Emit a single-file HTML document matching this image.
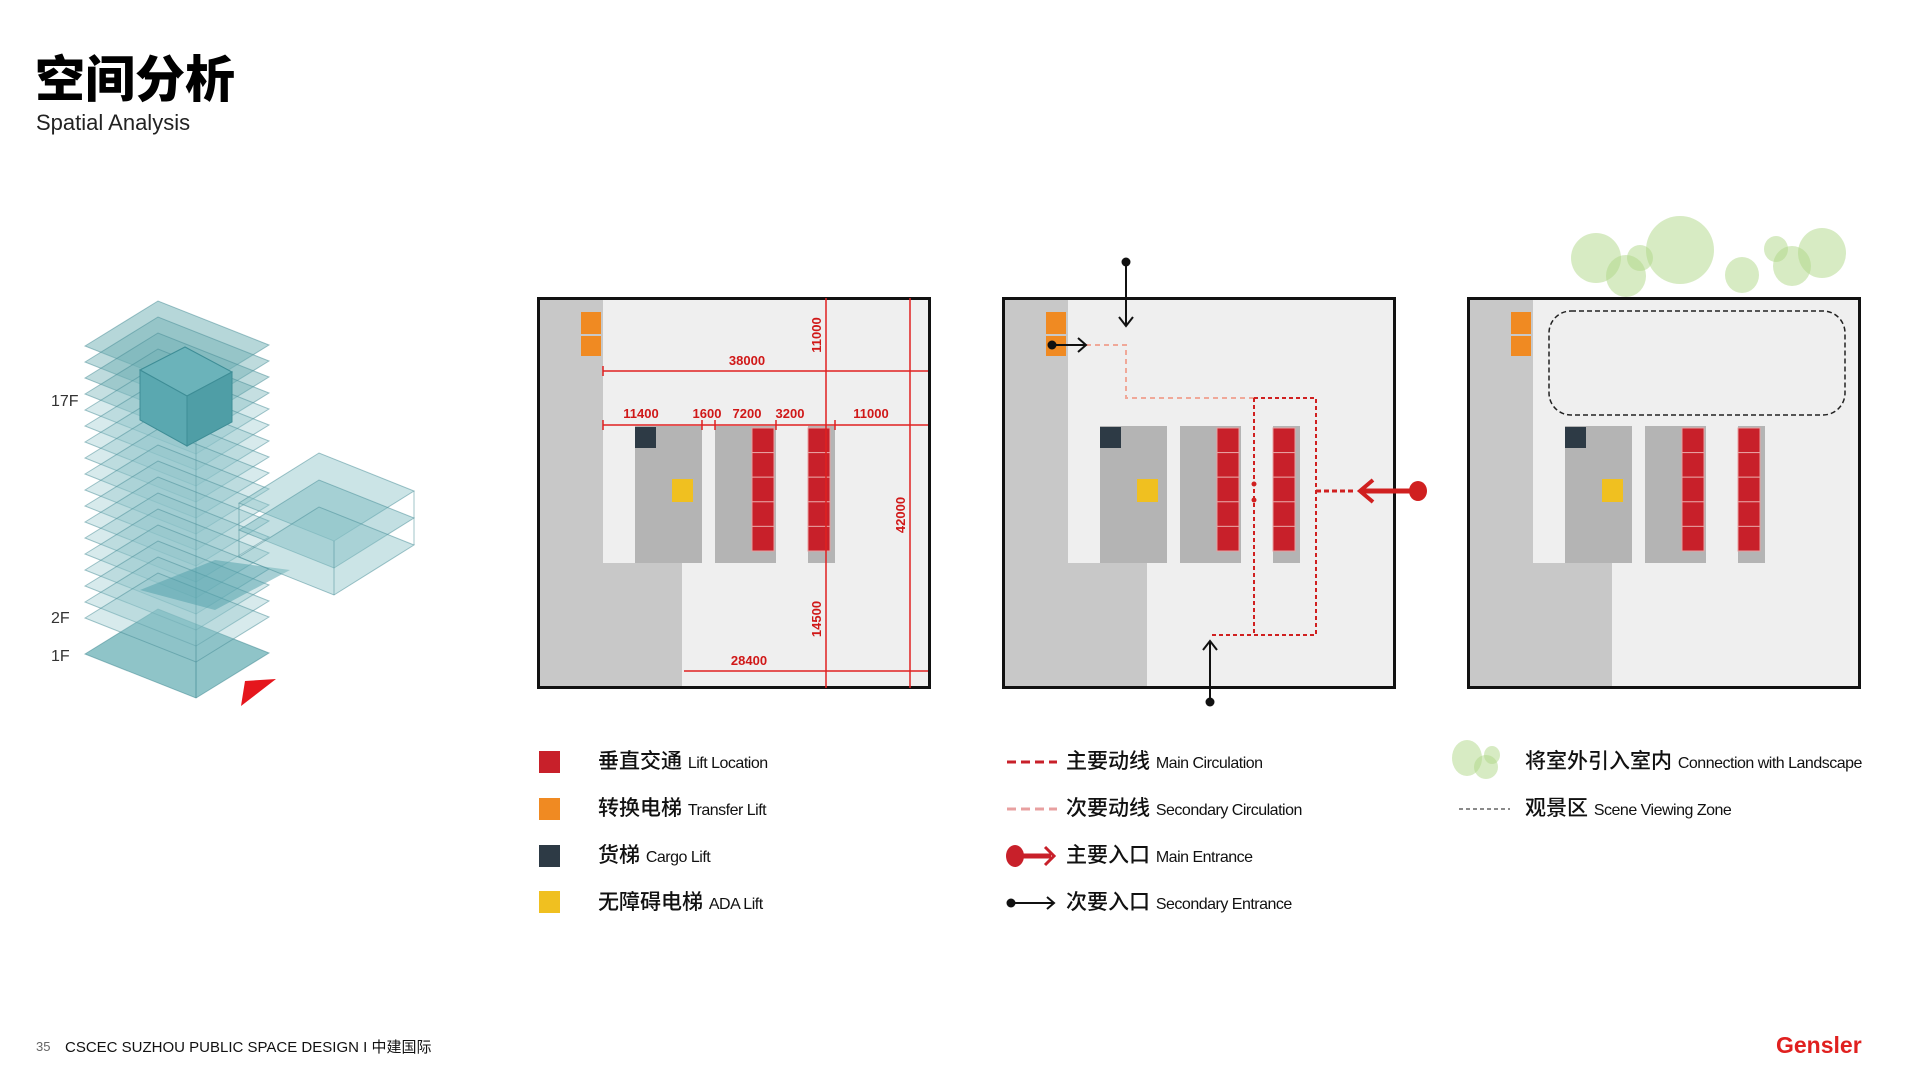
<!DOCTYPE html>
<html><head><meta charset="utf-8"><style>
body{margin:0;width:1920px;height:1080px;background:#fff;overflow:hidden;position:relative;font-family:"Liberation Sans","Noto Sans CJK SC",sans-serif}
.t{position:absolute;white-space:nowrap}
.lg{font-size:21px;font-weight:500;color:#111}
.lg small{font-size:16px;font-weight:400;letter-spacing:-0.5px}
</style></head><body>
<div class="t" style="left:35px;top:40px;font-size:50px;font-weight:900;font-family:'Noto Sans CJK SC',sans-serif;color:#000">空间分析</div>
<div class="t" style="left:36px;top:110px;font-size:22px;color:#222">Spatial Analysis</div>

<svg width="1920" height="1080" style="position:absolute;left:0;top:0" font-family="Liberation Sans, sans-serif">
<!-- tower -->
<g stroke="rgba(70,140,150,0.55)" stroke-width="1">
<polygon points="85,654 158,609 269,653 196,698" fill="#8fc4c8"/>
<line x1="196" y1="698" x2="196" y2="640" />
</g>
<g stroke="rgba(70,140,150,0.5)" stroke-width="1">
<polygon points="85,346 158,301 269,345 196,390" fill="rgba(110,175,180,0.5)"/>
<polygon points="85,362 158,317 269,361 196,406" fill="rgba(110,175,180,0.45)"/>
<polygon points="85,378 158,333 269,377 196,422" fill="rgba(110,175,180,0.45)"/>
<polygon points="85,394 158,349 269,393 196,438" fill="rgba(110,175,180,0.4)"/>
<polygon points="85,410 158,365 269,409 196,454" fill="rgba(140,195,200,0.35)"/>
<polygon points="85,426 158,381 269,425 196,470" fill="rgba(140,195,200,0.35)"/>
<polygon points="85,442 158,397 269,441 196,486" fill="rgba(140,195,200,0.35)"/>
<polygon points="85,458 158,413 269,457 196,502" fill="rgba(140,195,200,0.35)"/>
<polygon points="85,474 158,429 269,473 196,518" fill="rgba(140,195,200,0.35)"/>
<polygon points="85,490 158,445 269,489 196,534" fill="rgba(140,195,200,0.35)"/>
<polygon points="85,506 158,461 269,505 196,550" fill="rgba(140,195,200,0.35)"/>
<polygon points="85,522 158,477 269,521 196,566" fill="rgba(140,195,200,0.35)"/>
<polygon points="85,538 158,493 269,537 196,582" fill="rgba(140,195,200,0.35)"/>
<polygon points="85,554 158,509 269,553 196,598" fill="rgba(140,195,200,0.35)"/>
<polygon points="85,570 158,525 269,569 196,614" fill="rgba(140,195,200,0.35)"/>
<polygon points="85,586 158,541 269,585 196,630" fill="rgba(140,195,200,0.35)"/>
<polygon points="85,602 158,557 269,601 196,646" fill="rgba(140,195,200,0.35)"/>
<polygon points="85,618 158,573 269,617 196,662" fill="rgba(140,195,200,0.35)"/>
</g>
<line x1="196" y1="390" x2="196" y2="698" stroke="rgba(70,140,150,0.4)"/>
<polygon points="140,370 185,347 232,372 187,396" fill="#6bb3ba" stroke="#3e8d96"/>
<polygon points="140,370 187,396 187,446 140,420" fill="#5aa8b0" stroke="#3e8d96"/>
<polygon points="187,396 232,372 232,422 187,446" fill="#4f9ea6" stroke="#3e8d96"/>
<polygon points="140,590 215,560 290,570 215,610" fill="rgba(80,160,170,0.5)"/>
<g stroke="rgba(70,140,150,0.5)">
<polygon points="239,503 319,453 414,491 334,541" fill="rgba(140,195,200,0.45)"/>
<polygon points="239,530 319,480 414,518 334,568" fill="rgba(120,185,190,0.45)"/>
<polygon points="239,557 319,507 414,545 334,595" fill="rgba(140,195,200,0.45)"/>
<line x1="334" y1="541" x2="334" y2="595"/><line x1="414" y1="491" x2="414" y2="545"/><line x1="239" y1="503" x2="239" y2="557"/>
</g>
<polygon points="245,681 276,679 241,706" fill="#e5161d"/>
<text x="51" y="406" font-size="16" fill="#333">17F</text>
<text x="51" y="623" font-size="16" fill="#333">2F</text>
<text x="51" y="661" font-size="16" fill="#333">1F</text>

<defs>
<g id="plan">
<rect x="0" y="0" width="394" height="392" fill="#efefef"/>
<rect x="0" y="0" width="66" height="392" fill="#c8c8c8"/>
<rect x="0" y="266" width="145" height="126" fill="#c8c8c8"/>
<rect x="98" y="129" width="67" height="137" fill="#b4b4b4"/>
<rect x="178" y="129" width="61" height="137" fill="#b4b4b4"/>
<rect x="271" y="129" width="27" height="137" fill="#b4b4b4"/>
<rect x="44" y="15" width="20" height="22" fill="#f08a22"/>
<rect x="44" y="39" width="20" height="20" fill="#f08a22"/>
<rect x="98" y="130" width="21" height="21" fill="#2d3a45"/>
<rect x="135" y="182" width="21" height="23" fill="#f0c020"/>
<g fill="#c8202a" stroke="#e8a0a0" stroke-width="1">
<rect x="215" y="131" width="22" height="24.6"/><rect x="215" y="155.6" width="22" height="24.6"/><rect x="215" y="180.2" width="22" height="24.6"/><rect x="215" y="204.8" width="22" height="24.6"/><rect x="215" y="229.4" width="22" height="24.6"/>
<rect x="271" y="131" width="22" height="24.6"/><rect x="271" y="155.6" width="22" height="24.6"/><rect x="271" y="180.2" width="22" height="24.6"/><rect x="271" y="204.8" width="22" height="24.6"/><rect x="271" y="229.4" width="22" height="24.6"/>
</g>
<rect x="1.5" y="1.5" width="391" height="389" fill="none" stroke="#111" stroke-width="3"/>
</g>
</defs>
<g transform="translate(-4,-2)">
<use href="#plan" x="541" y="299"/>
<use href="#plan" x="1006" y="299"/>
<use href="#plan" x="1471" y="299"/>

<g stroke="#e02020" stroke-width="1.5" fill="none">
<line x1="830" y1="300" x2="830" y2="690"/>
<line x1="914" y1="300" x2="914" y2="690"/>
<line x1="607" y1="373" x2="932" y2="373"/>
<line x1="607" y1="427" x2="932" y2="427"/>
<line x1="688" y1="673" x2="932" y2="673"/>
<line x1="607" y1="422" x2="607" y2="432"/><line x1="706" y1="422" x2="706" y2="432"/><line x1="719" y1="422" x2="719" y2="432"/><line x1="780" y1="422" x2="780" y2="432"/><line x1="839" y1="422" x2="839" y2="432"/><line x1="607" y1="368" x2="607" y2="378"/>
</g>
<g fill="#d01818" font-size="13" font-weight="bold">
<text x="751" y="367" text-anchor="middle">38000</text>
<text x="645" y="420" text-anchor="middle">11400</text>
<text x="711" y="420" text-anchor="middle">1600</text>
<text x="751" y="420" text-anchor="middle">7200</text>
<text x="794" y="420" text-anchor="middle">3200</text>
<text x="875" y="420" text-anchor="middle">11000</text>
<text x="753" y="667" text-anchor="middle">28400</text>
<text transform="translate(825,337) rotate(-90)" text-anchor="middle">11000</text>
<text transform="translate(825,621) rotate(-90)" text-anchor="middle">14500</text>
<text transform="translate(909,517) rotate(-90)" text-anchor="middle">42000</text>
</g>

<g fill="none" stroke-width="2">
<polyline points="1090,347 1130,347 1130,400 1258,400" stroke="#f0a898" stroke-dasharray="5,4"/>
<polyline points="1258,400 1320,400 1320,637 1214,637" stroke="#d02020" stroke-dasharray="4,3"/>
<line x1="1258" y1="400" x2="1258" y2="637" stroke="#d02020" stroke-dasharray="4,3"/>
<line x1="1320" y1="493" x2="1360" y2="493" stroke="#d02020" stroke-width="3" stroke-dasharray="5,3"/>
<line x1="1365" y1="493" x2="1420" y2="493" stroke="#d02020" stroke-width="5"/>
<polyline points="1377,482 1364,493 1377,504" stroke="#d02020" stroke-width="4"/>
<line x1="1130" y1="263" x2="1130" y2="328" stroke="#111"/>
<polyline points="1123,319 1130,328 1137,319" stroke="#111"/>
<line x1="1058" y1="347" x2="1090" y2="347" stroke="#111"/>
<polyline points="1082,340 1090,347 1082,354" stroke="#111"/>
<line x1="1214" y1="705" x2="1214" y2="643" stroke="#111"/>
<polyline points="1207,652 1214,643 1221,652" stroke="#111"/>
</g>
<ellipse cx="1422" cy="493" rx="9" ry="10" fill="#d02020"/>
<circle cx="1258" cy="486" r="2.5" fill="#d02020"/><circle cx="1258" cy="502" r="2.5" fill="#d02020"/>
<circle cx="1130" cy="264" r="4.5" fill="#111"/><circle cx="1056" cy="347" r="4.5" fill="#111"/><circle cx="1214" cy="704" r="4.5" fill="#111"/>

<rect x="1553" y="313" width="296" height="104" rx="22" fill="none" stroke="#222" stroke-width="1.5" stroke-dasharray="5,3"/>
<g fill="rgba(175,215,135,0.5)">
<ellipse cx="1600" cy="260" rx="25" ry="25"/><ellipse cx="1630" cy="278" rx="20" ry="21"/><ellipse cx="1644" cy="260" rx="13" ry="13"/>
<ellipse cx="1684" cy="252" rx="34" ry="34"/><ellipse cx="1746" cy="277" rx="17" ry="18"/><ellipse cx="1780" cy="251" rx="12" ry="13"/>
<ellipse cx="1796" cy="268" rx="19" ry="20"/><ellipse cx="1826" cy="255" rx="24" ry="25"/>
</g>
</g>

<rect x="539" y="751" width="21" height="22" fill="#c8202a"/>
<rect x="539" y="798" width="21" height="22" fill="#f08a22"/>
<rect x="539" y="845" width="21" height="22" fill="#2d3a45"/>
<rect x="539" y="891" width="21" height="22" fill="#f0c020"/>
<line x1="1007" y1="762" x2="1057" y2="762" stroke="#c8202a" stroke-width="3" stroke-dasharray="9,5"/>
<line x1="1007" y1="809" x2="1057" y2="809" stroke="#e8a0a0" stroke-width="3" stroke-dasharray="9,5"/>
<ellipse cx="1015" cy="856" rx="9" ry="11" fill="#c8202a"/>
<line x1="1015" y1="856" x2="1051" y2="856" stroke="#c8202a" stroke-width="5"/>
<polyline points="1045,847 1054,856 1045,865" fill="none" stroke="#c8202a" stroke-width="3"/>
<circle cx="1011" cy="903" r="4.5" fill="#111"/>
<line x1="1011" y1="903" x2="1054" y2="903" stroke="#111" stroke-width="2"/>
<polyline points="1047,897 1054,903 1047,909" fill="none" stroke="#111" stroke-width="2"/>
<g fill="rgba(175,215,135,0.5)"><ellipse cx="1467" cy="758" rx="15" ry="18"/><ellipse cx="1486" cy="767" rx="12" ry="12"/><ellipse cx="1492" cy="755" rx="8" ry="9"/></g>
<line x1="1459" y1="809" x2="1510" y2="809" stroke="#444" stroke-width="1.2" stroke-dasharray="4,3"/>
</svg>

<div class="t lg" style="left:598px;top:745px">垂直交通 <small>Lift Location</small></div>
<div class="t lg" style="left:598px;top:792px">转换电梯 <small>Transfer Lift</small></div>
<div class="t lg" style="left:598px;top:839px">货梯 <small>Cargo Lift</small></div>
<div class="t lg" style="left:598px;top:886px">无障碍电梯 <small>ADA Lift</small></div>
<div class="t lg" style="left:1066px;top:745px">主要动线 <small>Main Circulation</small></div>
<div class="t lg" style="left:1066px;top:792px">次要动线 <small>Secondary Circulation</small></div>
<div class="t lg" style="left:1066px;top:839px">主要入口 <small>Main Entrance</small></div>
<div class="t lg" style="left:1066px;top:886px">次要入口 <small>Secondary Entrance</small></div>
<div class="t lg" style="left:1525px;top:745px">将室外引入室内 <small>Connection with Landscape</small></div>
<div class="t lg" style="left:1525px;top:792px">观景区 <small>Scene Viewing Zone</small></div>

<div class="t" style="left:36px;top:1039px;font-size:13px;color:#666">35</div>
<div class="t" style="left:65px;top:1036px;font-size:15px;color:#111">CSCEC SUZHOU PUBLIC SPACE DESIGN I 中建国际</div>
<div class="t" style="left:1776px;top:1032px;font-size:23px;font-weight:bold;color:#e0201f">Gensler</div>
</body></html>
